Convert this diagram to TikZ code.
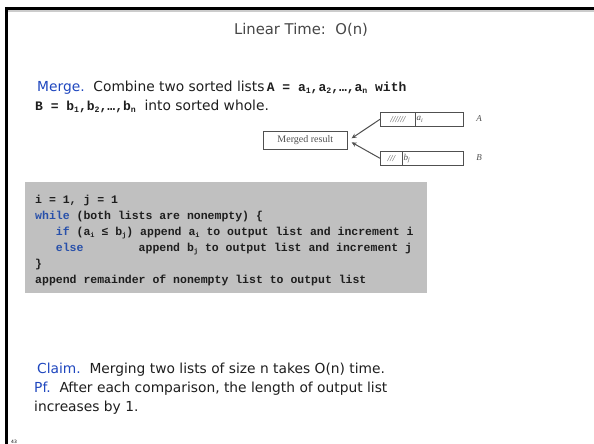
\documentclass[tikz,border=0pt]{standalone}
\usepackage{fontspec}
\usetikzlibrary{arrows.meta}
\setmainfont{DejaVu Sans}
\setmonofont{Liberation Mono}
\newfontfamily\serifface{Liberation Serif}
\definecolor{kwblue}{RGB}{40,80,170}
\definecolor{leadblue}{RGB}{30,70,190}
\definecolor{codegray}{RGB}{192,192,192}
\definecolor{bodytext}{RGB}{30,30,30}
\definecolor{titletext}{RGB}{70,70,70}
\definecolor{figgray}{RGB}{80,80,80}
% subscripts for the code block and for the running text
\newcommand\sbs[1]{\raisebox{-2.2pt}{\fontsize{7}{8}\selectfont #1}}
\newcommand\tsb[1]{\raisebox{-2.6pt}{\fontsize{8.2}{9}\selectfont #1}}
\newcommand\cols[1]{\hspace*{#1\fontcharwd\font`\x}}
\newcommand\kw[1]{\textcolor{kwblue}{#1}}
\newcommand\inlinecode{\ttfamily\bfseries\fontsize{13}{15}\selectfont}
\begin{document}
\begin{tikzpicture}[x=1pt,y=-1pt,
  body/.style={anchor=base west,inner sep=0pt,text=bodytext,font=\fontsize{13.8}{16}\selectfont},
  codeline/.style={anchor=base west,inner sep=0pt,text=bodytext,font=\fontsize{11.5}{13}\selectfont\ttfamily\bfseries},
  figbox/.style={draw=figgray,line width=0.6pt,minimum height=14pt,inner sep=0pt,anchor=north west},
  figtext/.style={text=figgray,font=\serifface\fontsize{10}{11}\selectfont},
  figital/.style={text=figgray,font=\serifface\itshape\fontsize{9}{10}\selectfont}]
\useasboundingbox (0,0) rectangle (594,444);

% slide frame
\fill[gray!40] (5,10) rectangle (594,12);
\draw[line width=3pt] (5,8.5) -- (594,8.5);
\draw[line width=3pt] (6.5,7) -- (6.5,444);

% title
\node[anchor=base,inner sep=0pt,text=titletext,font=\fontsize{14.8}{17}\selectfont] (title) at (301,35) {Linear Time:\ \ O(n)};

% statement of the problem
\node[body] (merge) at (37,91) {\textcolor{leadblue}{Merge.}\ \ Combine two sorted lists\,{\inlinecode A = a\tsb{1},a\tsb{2},\dots,a\tsb{n} with}};
\node[body] (merge2) at (35,110) {{\inlinecode B = b\tsb{1},b\tsb{2},\dots,b\tsb{n}}\ \ into sorted whole.};

% merging figure
\node[figbox,minimum width=84pt,minimum height=18pt] (mres) at (263,131) {};
\node[figtext] (mrestext) at (mres.center) {Merged result};
\node[figbox,minimum width=35pt] (ahatch) at (380,112) {};
\node[figbox,minimum width=48pt] (aval) at (415,112) {};
\node[figbox,minimum width=22pt] (bhatch) at (380,151) {};
\node[figbox,minimum width=61pt] (bval) at (402,151) {};
\node[figital] (ahatchtext) at (ahatch.center) {//////};
\node[figital] (bhatchtext) at (bhatch.center) {///};
\node[figital,anchor=west,inner sep=1.5pt] (ai) at (aval.west) {a\raisebox{-1.5pt}{\fontsize{6}{7}\selectfont i}};
\node[figital,anchor=west,inner sep=1.5pt] (bj) at (bval.west) {b\raisebox{-1.5pt}{\fontsize{6}{7}\selectfont j}};
\node[figital] (alabel) at (479,119) {A};
\node[figital] (blabel) at (479,158) {B};
\draw[figgray,line width=1pt,-{Stealth[length=5pt,width=4.5pt]}] (ahatch.west) -- ([shift={(4,-2)}]mres.east);
\draw[figgray,line width=1pt,-{Stealth[length=5pt,width=4.5pt]}] (bhatch.west) -- ([shift={(4,2)}]mres.east);

% pseudocode
\fill[codegray] (25,182) rectangle (427,293);
\node[codeline] (c1) at (35,203) {i = 1, j = 1};
\node[codeline] (c2) at (35,219) {\kw{while} (both lists are nonempty) \{};
\node[codeline] (c3) at (35,235) {\cols{3}\kw{if} (a\sbs{i} ≤ b\sbs{j}) append a\sbs{i} to output list and increment i};
\node[codeline] (c4) at (35,251) {\cols{3}\kw{else}\cols{8}append b\sbs{j} to output list and increment j};
\node[codeline] (c5) at (35,267) {\}};
\node[codeline] (c6) at (35,283) {append remainder of nonempty list to output list};

% claim and proof
\node[body] (claim) at (37,373) {\textcolor{leadblue}{Claim.}\ \ Merging two lists of size n takes O(n) time.};
\node[body] (pf) at (34,392) {\textcolor{leadblue}{Pf.}\ \ After each comparison, the length of output list};
\node[body] (pf2) at (34,411) {increases by 1.};

% page number
\node[anchor=base west,inner sep=0pt,font=\fontsize{4.5}{5}\selectfont] (pagenum) at (11,443) {43};
\end{tikzpicture}
\end{document}
